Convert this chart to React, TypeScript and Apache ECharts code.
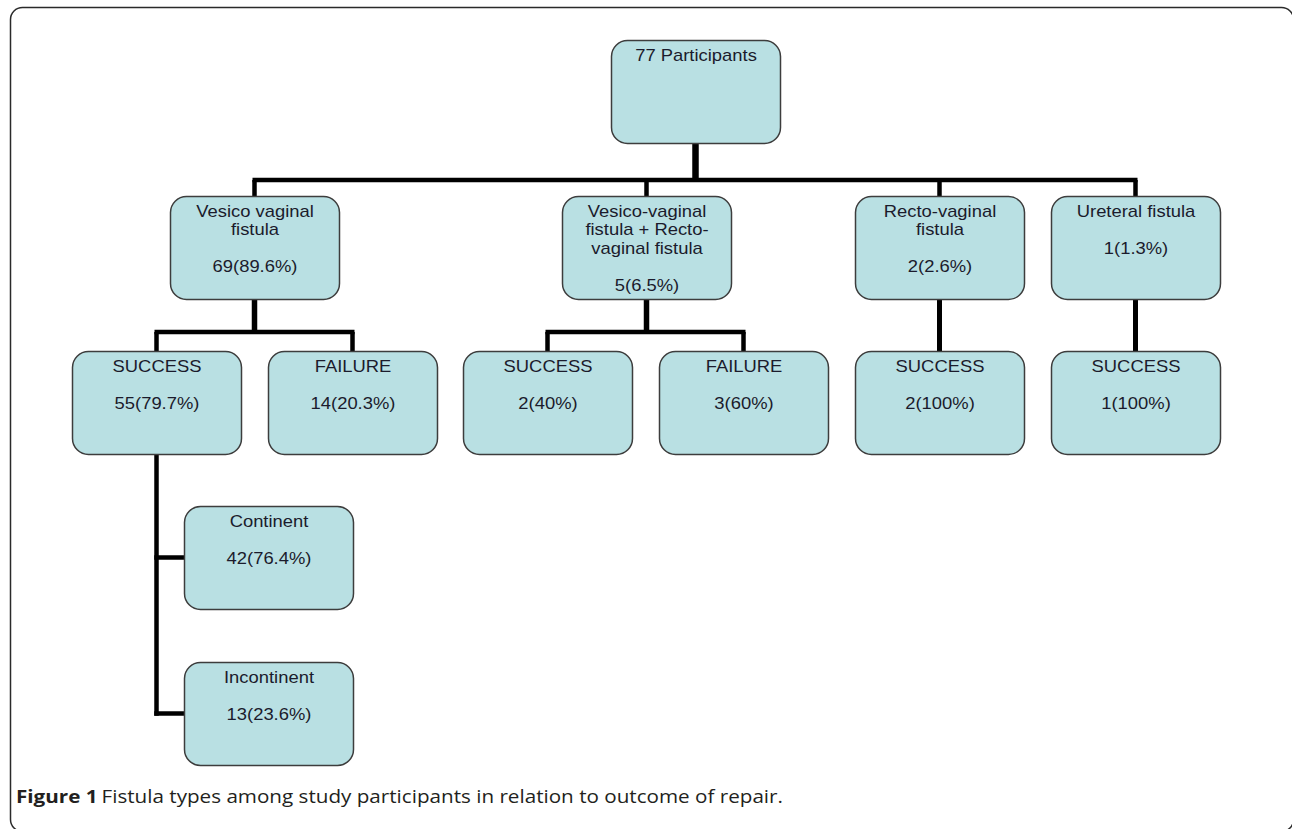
import React, { useEffect, useRef } from "react";
import * as echarts from "echarts";

// ---- data ----
const nodeLabels = [
  "77 Participants",
  "Vesico vaginal\nfistula",
  "Vesico-vaginal\nfistula + Recto-\nvaginal fistula",
  "Recto-vaginal\nfistula",
  "Ureteral fistula",
  "SUCCESS",
  "FAILURE",
  "SUCCESS",
  "FAILURE",
  "SUCCESS",
  "SUCCESS",
  "Continent",
  "Incontinent",
];
const nodeCounts = [77, 69, 5, 2, 1, 55, 14, 2, 3, 2, 1, 42, 13];
const nodePercents = [null, 89.6, 6.5, 2.6, 1.3, 79.7, 20.3, 40, 60, 100, 100, 76.4, 23.6];
const nodeParents = [-1, 0, 0, 0, 0, 1, 1, 2, 2, 3, 4, 5, 5];
const captionBold = "Figure 1";
const captionText = "Fistula types among study participants in relation to outcome of repair.";

// ---- layout (positions only) ----
const BOX_W = 169;
const BOX_H = 103;
const boxPos: [number, number][] = [
  [611, 40],
  [170, 196],
  [562, 196],
  [855, 196],
  [1051, 196],
  [72, 351],
  [268, 351],
  [463, 351],
  [659, 351],
  [855, 351],
  [1051, 351],
  [184, 506],
  [184, 662],
];
// connector type per parent index: bus y-level, or side-branch
const busY: Record<number, number> = { 0: 180, 1: 332, 2: 332 };
const sideParents = [5];

const FILL = "#b9e0e3";
const BORDER = "#3d3d3d";
const LINE = "#000000";
const TEXT = "#1b1b2c";

function buildGraphics() {
  const els: any[] = [];
  const cx = (i: number) => boxPos[i][0] + BOX_W / 2;
  const top = (i: number) => boxPos[i][1];
  const bot = (i: number) => boxPos[i][1] + BOX_H;
  const midY = (i: number) => boxPos[i][1] + BOX_H / 2;

  // outer frame
  els.push({
    type: "rect",
    shape: { x: 10.5, y: 7.5, width: 1283, height: 824, r: 12 },
    style: { fill: "none", stroke: "#2a2a2a", lineWidth: 1.5 },
    z: 1,
  });

  // connectors
  const parents = Array.from(new Set(nodeParents.filter((p) => p >= 0)));
  parents.forEach((p) => {
    const kids = nodeParents.map((q, i) => (q === p ? i : -1)).filter((i) => i >= 0);
    if (sideParents.includes(p)) {
      const x = cx(p);
      const lastY = midY(kids[kids.length - 1]);
      els.push({
        type: "line",
        shape: { x1: x, y1: bot(p), x2: x, y2: lastY + 2.25 },
        style: { stroke: LINE, lineWidth: 4.5 },
        z: 2,
      });
      kids.forEach((k) => {
        els.push({
          type: "line",
          shape: { x1: x - 2.25, y1: midY(k), x2: boxPos[k][0], y2: midY(k) },
          style: { stroke: LINE, lineWidth: 4.5 },
          z: 2,
        });
      });
    } else if (busY[p] !== undefined) {
      const y = busY[p];
      els.push({
        type: "line",
        shape: { x1: cx(p), y1: bot(p), x2: cx(p), y2: y },
        style: { stroke: LINE, lineWidth: p === 0 ? 6.5 : 5.5 },
        z: 2,
      });
      const xs = kids.map(cx);
      els.push({
        type: "line",
        shape: { x1: Math.min(...xs) - 2, y1: y, x2: Math.max(...xs) + 2, y2: y },
        style: { stroke: LINE, lineWidth: 4.5 },
        z: 2,
      });
      kids.forEach((k) => {
        els.push({
          type: "line",
          shape: { x1: cx(k), y1: y, x2: cx(k), y2: top(k) },
          style: { stroke: LINE, lineWidth: 4.5 },
          z: 2,
        });
      });
    } else {
      kids.forEach((k) => {
        els.push({
          type: "line",
          shape: { x1: cx(p), y1: bot(p), x2: cx(k), y2: top(k) },
          style: { stroke: LINE, lineWidth: 5 },
          z: 2,
        });
      });
    }
  });

  // boxes
  nodeLabels.forEach((label, i) => {
    const [x, y] = boxPos[i];
    els.push({
      type: "rect",
      shape: { x: x + 0.5, y: y + 0.5, width: BOX_W, height: BOX_H, r: 16 },
      style: { fill: FILL, stroke: BORDER, lineWidth: 1.5 },
      z: 3,
    });
    const pct = nodePercents[i];
    const txt = pct === null ? label : `${label}\n\n${nodeCounts[i]}(${pct}%)`;
    els.push({
      type: "text",
      x: x + BOX_W / 2 + 0.5,
      y: y + 5.75,
      scaleX: 1.15,
      style: {
        text: txt,
        fill: TEXT,
        fontSize: 16,
        fontFamily: "Liberation Sans, Arial, sans-serif",
        textAlign: "center",
        textVerticalAlign: "top",
        lineHeight: 18.5,
      },
      z: 4,
    });
  });

  // caption
  els.push({
    type: "text",
    x: 16,
    y: 797,
    scaleX: 1.18,
    style: {
      text: `{b|${captionBold}} {n|${captionText}}`,
      textVerticalAlign: "middle",
      rich: {
        b: { fontFamily: "Open Sans, sans-serif", fontWeight: "bold", fontSize: 17.5, fill: "#231f20" },
        n: { fontFamily: "Open Sans, sans-serif", fontSize: 17.5, fill: "#231f20" },
      },
    },
    z: 4,
  });
  return els;
}

export default function App() {
  const ref = useRef<HTMLDivElement>(null);
  useEffect(() => {
    if (!ref.current) return;
    const chart = echarts.init(ref.current, null, { renderer: "svg" });
    chart.setOption({
      animation: false,
      backgroundColor: "#ffffff",
      graphic: { elements: buildGraphics() },
    });
    return () => chart.dispose();
  }, []);
  return (
    <div
      ref={ref}
      style={{ position: "fixed", left: 0, top: 0, width: 1292, height: 829, background: "#fff" }}
    />
  );
}
